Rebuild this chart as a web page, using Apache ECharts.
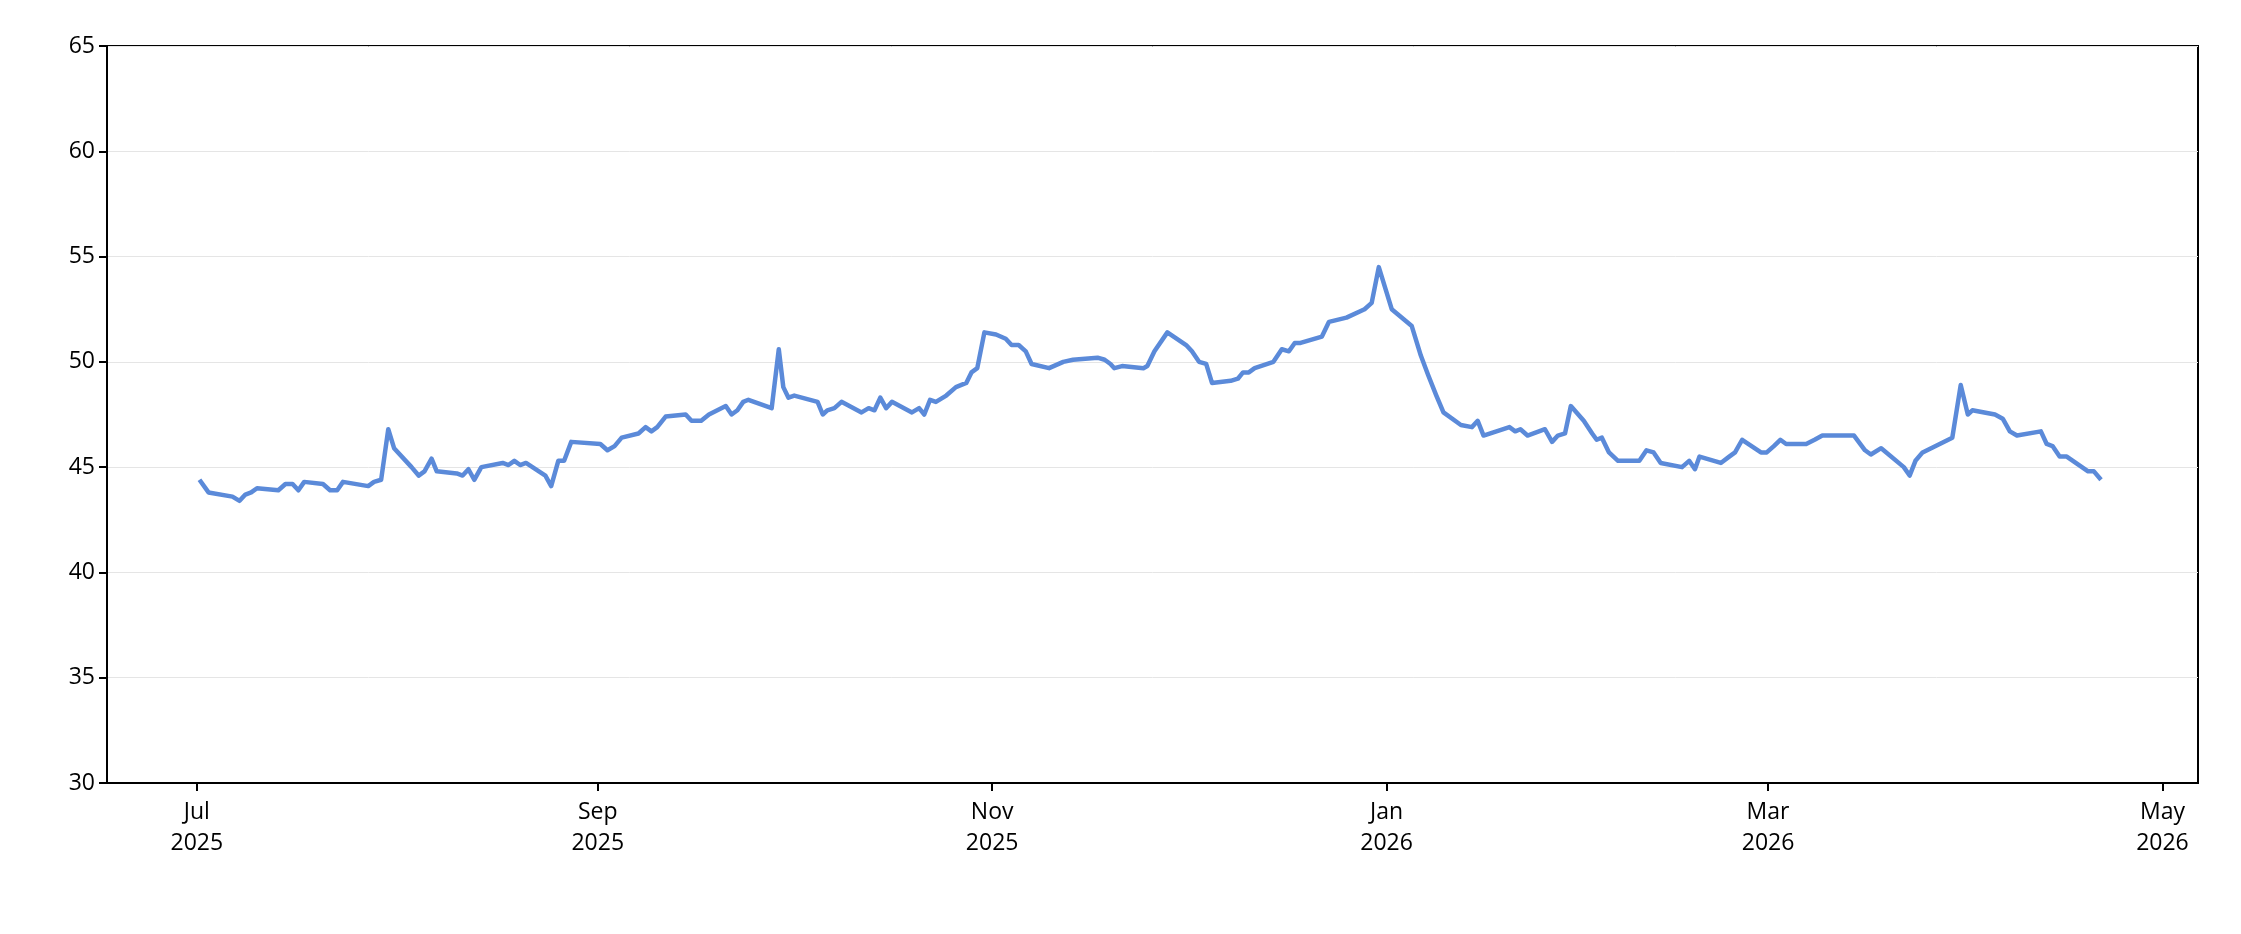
<!DOCTYPE html>
<html><head><meta charset="utf-8">
<script src="https://cdn.jsdelivr.net/npm/echarts@6/dist/echarts.min.js"></script>
<style>html,body{margin:0;padding:0;background:#fff}#c{width:2241px;height:934px}</style>
</head><body><div id="c"></div>
<script>
const startDate = '2025-07-01';
const dayOffsets = [0.4,1.8,5.5,6.6,7.5,8.4,9.3,12.6,13.7,14.8,15.7,16.6,19.5,20.6,21.7,22.6,26.5,27.4,28.5,29.6,30.5,33.2,34.3,35.2,36.3,37.1,40.2,41.1,42.0,42.9,44.0,47.3,48.2,49.1,50.0,50.9,53.9,54.8,55.9,56.8,57.9,62.4,63.5,64.6,65.7,68.3,69.4,70.3,71.2,72.5,75.6,76.5,78.0,79.2,81.8,82.7,83.6,84.5,85.3,88.9,90.0,90.7,91.5,92.4,96.0,96.8,97.5,98.6,99.7,102.8,103.9,104.8,105.7,106.6,107.5,110.6,111.7,112.5,113.4,114.3,115.9,117.4,119.0,119.8,120.7,121.8,123.6,125.1,126.0,127.1,128.2,129.1,131.8,134.0,135.5,139.3,140.4,141.3,141.9,143.1,146.4,147.0,148.1,150.1,153.0,153.9,155.0,156.1,157.0,159.9,161.0,161.8,162.7,163.6,166.5,167.8,168.9,169.8,170.7,174.0,175.1,177.8,180.6,181.7,182.8,184.8,187.9,189.3,190.4,191.7,192.8,195.5,197.2,198.1,199.0,203.0,203.9,204.7,205.8,208.5,209.6,210.5,211.6,212.5,214.5,215.8,216.5,217.3,218.4,219.8,223.1,224.2,225.3,226.4,229.7,230.8,231.7,232.4,235.7,237.0,237.9,239.0,241.9,242.8,243.9,244.9,245.8,248.9,250.2,251.4,253.1,256.3,258.0,258.9,260.5,264.0,264.9,265.8,266.9,271.5,272.8,273.9,274.6,278.1,279.3,280.4,281.5,285.2,286.1,287.0,288.1,289.2,292.5,293.4,294.5];
const values = [44.4,43.8,43.6,43.4,43.7,43.8,44.0,43.9,44.2,44.2,43.9,44.3,44.2,43.9,43.9,44.3,44.1,44.3,44.4,46.8,45.9,45.0,44.6,44.8,45.4,44.8,44.7,44.6,44.9,44.4,45.0,45.2,45.1,45.3,45.1,45.2,44.6,44.1,45.3,45.3,46.2,46.1,45.8,46.0,46.4,46.6,46.9,46.7,46.9,47.4,47.5,47.2,47.2,47.5,47.9,47.5,47.7,48.1,48.2,47.8,50.6,48.8,48.3,48.4,48.1,47.5,47.7,47.8,48.1,47.6,47.8,47.7,48.3,47.8,48.1,47.6,47.8,47.5,48.2,48.1,48.4,48.8,49.0,49.5,49.7,51.4,51.3,51.1,50.8,50.8,50.5,49.9,49.7,50.0,50.1,50.2,50.1,49.9,49.7,49.8,49.7,49.8,50.5,51.4,50.8,50.5,50.0,49.9,49.0,49.1,49.2,49.5,49.5,49.7,50.0,50.6,50.5,50.9,50.9,51.2,51.9,52.1,52.5,52.8,54.5,52.5,51.7,50.3,49.4,48.4,47.6,47.0,46.9,47.2,46.5,46.9,46.7,46.8,46.5,46.8,46.2,46.5,46.6,47.9,47.2,46.6,46.3,46.4,45.7,45.3,45.3,45.8,45.7,45.2,45.0,45.3,44.9,45.5,45.2,45.5,45.7,46.3,45.7,45.7,46.0,46.3,46.1,46.1,46.3,46.5,46.5,46.5,45.8,45.6,45.9,45.0,44.6,45.3,45.7,46.4,48.9,47.5,47.7,47.5,47.3,46.7,46.5,46.7,46.1,46.0,45.5,45.5,44.8,44.8,44.4];
const tickDates = ['2025-07-01','2025-09-01','2025-11-01','2026-01-01','2026-03-01','2026-05-01'];
const yTicks = [30,35,40,45,50,55,60,65];

const DAY = 86400000;
const base = Date.parse(startDate + 'T00:00:00Z');
const data = dayOffsets.map((d, i) => [d, values[i]]);
const tickDays = tickDates.map(s => Math.round((Date.parse(s + 'T00:00:00Z') - base) / DAY));
const mon = ['Jan','Feb','Mar','Apr','May','Jun','Jul','Aug','Sep','Oct','Nov','Dec'];
const fmt = v => { const d = new Date(base + v * DAY); return mon[d.getUTCMonth()] + '\n' + d.getUTCFullYear(); };
const font = 'Open Sans';

function build(useCustom) {
  const xAxis = {
    type: 'value', min: -13.9, max: 309.5,
    splitLine: {show: false},
    axisLine: {onZero: false, lineStyle: {color: '#000', width: 2}},
    axisTick: {show: true, length: 8, lineStyle: {color: '#000', width: 2}},
    axisLabel: {color: '#000', fontFamily: font, fontSize: 23, lineHeight: 31, margin: 14, formatter: fmt}
  };
  if (useCustom) {
    xAxis.axisTick.customValues = tickDays;
    xAxis.axisLabel.customValues = tickDays;
  } else {
    xAxis.axisLabel.show = false; xAxis.axisTick.show = false;
  }
  return {
    animation: false,
    grid: {left: 107, right: 43, top: 46, bottom: 151, show: true, borderColor: '#000', borderWidth: 2},
    xAxis: xAxis,
    yAxis: {
      type: 'value', min: 30, max: 65, interval: 5,
      axisLine: {show: true, onZero: false, lineStyle: {color: '#000', width: 2}},
      axisTick: {show: true, length: 8, lineStyle: {color: '#000', width: 2}},
      axisLabel: {color: '#000', fontFamily: font, fontSize: 23, margin: 12, formatter: v => yTicks.includes(v) ? String(v) : ''},
      splitLine: {show: true, lineStyle: {color: '#e5e5e5', width: 1}}
    },
    series: [{
      type: 'line', data: data, showSymbol: false, symbol: 'none',
      lineStyle: {color: '#5b8ad9', width: 4.5, join: 'round'}
    }]
  };
}
let chart = echarts.init(document.getElementById('c'));
try { chart.setOption(build(true)); }
catch (e) { chart.dispose(); chart = echarts.init(document.getElementById('c')); chart.setOption(build(false)); }
</script></body></html>
